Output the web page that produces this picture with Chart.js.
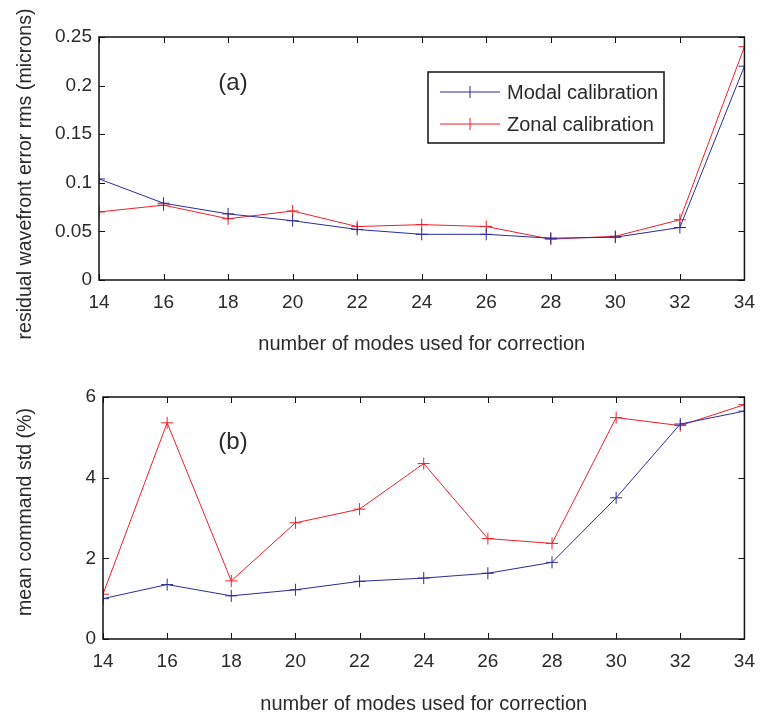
<!DOCTYPE html>
<html>
<head>
<meta charset="utf-8">
<script src="https://cdn.jsdelivr.net/npm/chart.js@4"></script>
<style>
  body { margin: 0; background: #fff; }
  .box { position: absolute; left: 0; width: 766px; }
</style>
</head>
<body>
<div class="box" style="top:0;height:356px"><canvas id="chartA"></canvas></div>
<div class="box" style="top:356px;height:357px"><canvas id="chartB"></canvas></div>
<script>
// number of modes on the x axis
var modes = [14, 16, 18, 20, 22, 24, 26, 28, 30, 32, 34];

// (a) residual wavefront error rms (microns)
var modalRms = [0.104, 0.079, 0.068, 0.061, 0.052, 0.047, 0.047, 0.043, 0.044, 0.054, 0.220];
var zonalRms = [0.070, 0.077, 0.063, 0.071, 0.055, 0.057, 0.055, 0.042, 0.045, 0.062, 0.240];

// (b) mean command std (%)
var modalStd = [1.00, 1.35, 1.07, 1.22, 1.43, 1.51, 1.63, 1.90, 3.50, 5.33, 5.65];
var zonalStd = [1.11, 5.36, 1.44, 2.88, 3.22, 4.35, 2.49, 2.37, 5.49, 5.29, 5.81];

var legendLabels = ['Modal calibration', 'Zonal calibration'];
var blue = '#2c2c9c';
var red = '#f0202a';
var textColor = '#2a2a2a';
var fontName = '"Liberation Sans", Arial, sans-serif';

function pts(ys) {
  return modes.map(function(m, i) { return { x: m, y: ys[i] }; });
}

// matlab style box with ticks pointing inward
var boxPlugin = {
  id: 'box',
  afterDraw: function(chart, args, opts) {
    var ctx = chart.ctx, a = chart.chartArea;
    var xs = chart.scales.x, ys = chart.scales.y;
    ctx.save();
    ctx.strokeStyle = '#111';
    ctx.lineWidth = 1;
    ctx.beginPath();
    xs.ticks.forEach(function(t) {
      var px = Math.round(xs.getPixelForValue(t.value)) + 0.5;
      ctx.moveTo(px, a.bottom); ctx.lineTo(px, a.bottom - 6);
      ctx.moveTo(px, a.top); ctx.lineTo(px, a.top + 6);
    });
    ys.ticks.forEach(function(t) {
      var py = Math.round(ys.getPixelForValue(t.value)) + 0.5;
      ctx.moveTo(a.left, py); ctx.lineTo(a.left + 6, py);
      ctx.moveTo(a.right, py); ctx.lineTo(a.right - 6, py);
    });
    ctx.stroke();
    ctx.lineWidth = 1.5;
    ctx.strokeRect(a.left, a.top, a.right - a.left, a.bottom - a.top);

    // panel label
    ctx.fillStyle = textColor;
    ctx.font = '24px ' + fontName;
    ctx.textAlign = 'center';
    ctx.textBaseline = 'middle';
    ctx.fillText(opts.label, opts.labelX, opts.labelY);

    // y axis title (placed like the original, not centred on the axis)
    ctx.save();
    ctx.translate(opts.yTitleX, opts.yTitleY);
    ctx.rotate(-Math.PI / 2);
    ctx.font = '19.6px ' + fontName;
    ctx.fillText(opts.yTitle, 0, 0);
    ctx.restore();

    // legend box
    if (opts.legend) {
      var L = opts.legend;
      ctx.fillStyle = '#fff';
      ctx.fillRect(L.x, L.y, L.w, L.h);
      ctx.lineWidth = 1.5;
      ctx.strokeStyle = '#111';
      ctx.strokeRect(L.x, L.y, L.w, L.h);
      ctx.font = '20px ' + fontName;
      ctx.textAlign = 'left';
      chart.data.datasets.forEach(function(ds, i) {
        var cy = L.y + 20 + i * 32;
        ctx.strokeStyle = ds.borderColor;
        ctx.lineWidth = 1;
        ctx.beginPath();
        ctx.moveTo(L.x + 12, cy); ctx.lineTo(L.x + 72, cy);
        ctx.moveTo(L.x + 42, cy - 6); ctx.lineTo(L.x + 42, cy + 6);
        ctx.stroke();
        ctx.fillStyle = textColor;
        ctx.fillText(ds.label, L.x + 79, cy + 1);
      });
    }
    ctx.restore();
  }
};

function makeChart(id, modal, zonal, yMax, yStep, pad, extra) {
  return new Chart(document.getElementById(id), {
    type: 'line',
    data: {
      datasets: [
        { label: legendLabels[0], data: pts(modal), borderColor: blue, backgroundColor: blue,
          borderWidth: 1, pointStyle: 'cross', pointRadius: 6, pointBorderWidth: 1, tension: 0 },
        { label: legendLabels[1], data: pts(zonal), borderColor: red, backgroundColor: red,
          borderWidth: 1, pointStyle: 'cross', pointRadius: 6, pointBorderWidth: 1, tension: 0 }
      ]
    },
    options: {
      responsive: true,
      maintainAspectRatio: false,
      animation: false,
      layout: { padding: pad },
      plugins: {
        legend: { display: false },
        tooltip: { enabled: false },
        box: extra
      },
      scales: {
        x: {
          type: 'linear', min: 14, max: 34,
          grid: { display: false, drawTicks: false },
          border: { display: false },
          ticks: { stepSize: 2, color: textColor, font: { family: fontName, size: 19 }, padding: 11 },
          title: { display: true, text: 'number of modes used for correction', color: textColor,
                   font: { family: fontName, size: 20 }, padding: { top: 0, bottom: extra.xTitlePad } },
          afterFit: function(s) { s.height = extra.xHeight; }
        },
        y: {
          min: 0, max: yMax,
          grid: { display: false, drawTicks: false },
          border: { display: false },
          ticks: { stepSize: yStep, color: textColor, font: { family: fontName, size: 19 }, padding: 7,
                   callback: function(v) { return +v.toFixed(2) + ''; } },
          afterFit: function(s) { s.width = extra.yWidth; }
        }
      }
    },
    plugins: [boxPlugin]
  });
}

makeChart('chartA', modalRms, zonalRms, 0.25, 0.05,
  { top: 37, left: 0, right: 11, bottom: 0 },
  { label: '(a)', labelX: 233, labelY: 83, yWidth: 99, xHeight: 76, xTitlePad: 0,
    yTitle: 'residual wavefront error rms (microns)', yTitleX: 26, yTitleY: 174,
    legend: { x: 428, y: 72, w: 236, h: 71 } });

makeChart('chartB', modalStd, zonalStd, 6, 2,
  { top: 41, left: 0, right: 9, bottom: 0 },
  { label: '(b)', labelX: 233, labelY: 86, yWidth: 103, xHeight: 74, xTitlePad: -3,
    yTitle: 'mean command std (%)', yTitleX: 26, yTitleY: 156 });
</script>
</body>
</html>
